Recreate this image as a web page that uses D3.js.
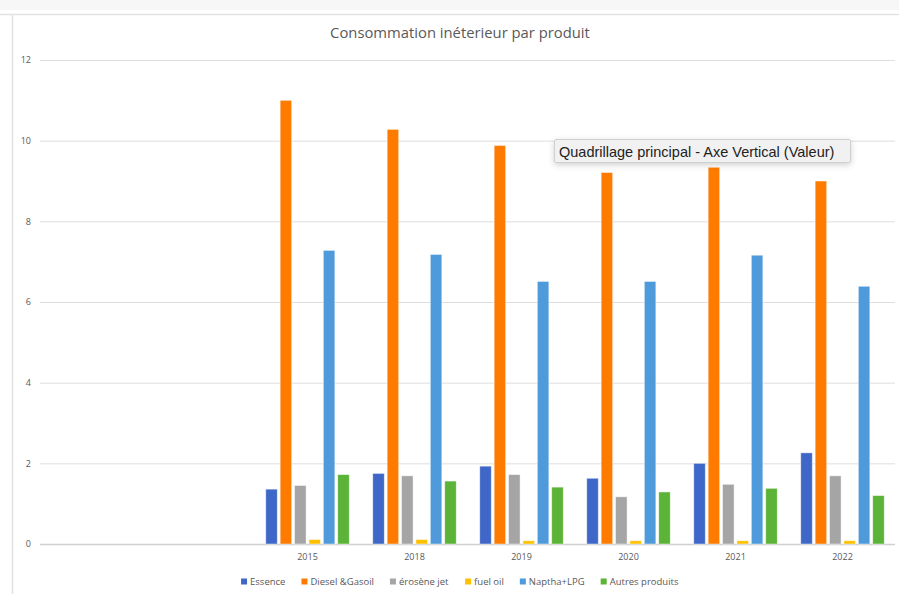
<!DOCTYPE html>
<html><head><meta charset="utf-8">
<script src="https://cdn.jsdelivr.net/npm/d3@7"></script>
<style>html,body{margin:0;padding:0;background:#fff;}svg{display:block;}</style>
</head><body>
<svg id="c" width="899" height="594"></svg>
<script>
const title = "Consommation inéterieur par produit";
const categories = ["", "", "2015", "2018", "2019", "2020", "2021", "2022"];
const seriesNames = ["Essence", "Diesel &Gasoil", "érosène jet", "fuel oil", "Naptha+LPG", "Autres produits"];
const seriesColors = ["#3F67C7", "#FF7B00", "#A5A5A5", "#FFC000", "#4E9ADB", "#5BB337"];
const essence = [null, null, 1.36, 1.75, 1.93, 1.63, 2.00, 2.26];
const diesel  = [null, null, 11.0, 10.28, 9.88, 9.21, 9.34, 9.00];
const kerosene= [null, null, 1.45, 1.69, 1.72, 1.17, 1.48, 1.69];
const fuelOil = [null, null, 0.11, 0.11, 0.08, 0.08, 0.08, 0.08];
const naptha  = [null, null, 7.28, 7.18, 6.51, 6.51, 7.16, 6.39];
const autres  = [null, null, 1.72, 1.56, 1.41, 1.29, 1.38, 1.20];
const yTicks = [0, 2, 4, 6, 8, 10, 12];
const tooltipText = "Quadrillage principal - Axe Vertical (Valeur)";

const seriesValues = [essence, diesel, kerosene, fuelOil, naptha, autres];

const svg = d3.select("#c");
const font = "'Open Sans', 'Liberation Sans', sans-serif";

// background frame
svg.append("rect").attr("x",0).attr("y",0).attr("width",899).attr("height",10).attr("fill","#f7f7f7");
svg.append("line").attr("x1",0).attr("x2",899).attr("y1",14.5).attr("y2",14.5).attr("stroke","#e2e2e2").attr("stroke-width",1.5);
svg.append("line").attr("x1",12.5).attr("x2",12.5).attr("y1",14.5).attr("y2",594).attr("stroke","#e2e2e2").attr("stroke-width",1.5);

const x = d3.scaleBand().domain(d3.range(categories.length)).range([40, 896]).paddingInner(0.193).paddingOuter(0.0965);
const xs = d3.scaleBand().domain(d3.range(seriesNames.length)).range([0, x.bandwidth()]).paddingInner(0.2).paddingOuter(0.1);
const y = d3.scaleLinear().domain([0, 12]).range([544, 60]);

// gridlines
const yAxis = d3.axisLeft(y).tickValues(yTicks).tickSize(-(895-40)).tickPadding(9);
const gy = svg.append("g").attr("transform","translate(40,0)").call(yAxis);
gy.select(".domain").remove();
gy.selectAll(".tick line").attr("stroke", d => d===0 ? "#d0d0d0" : "#dedede").attr("stroke-width", d => d===0 ? 1.3 : 1);
gy.selectAll(".tick text").attr("fill","#595959").attr("font-family",font).attr("font-size","9px");

// bars
const groups = svg.append("g").selectAll("g").data(categories.map((c,i)=>i)).join("g")
  .attr("transform", i => `translate(${x(i)},0)`);
groups.selectAll("rect").data(i => seriesValues.map((s,k)=>({k, v:s[i]})).filter(d=>d.v!=null)).join("rect")
  .attr("x", d => xs(d.k)).attr("width", xs.bandwidth())
  .attr("y", d => y(d.v)).attr("height", d => y(0)-y(d.v))
  .attr("fill", d => seriesColors[d.k])
  .attr("stroke", "rgba(255,255,255,0.55)").attr("stroke-width", 0.8);

// x axis labels
const xAxis = d3.axisBottom(x).tickFormat(i => categories[i]).tickSize(0).tickPadding(10);
const gx = svg.append("g").attr("transform","translate(0,544)").call(xAxis);
gx.select(".domain").remove();
gx.selectAll(".tick text").attr("fill","#595959").attr("font-family",font).attr("font-size","9px");

// title
svg.append("text").attr("x",460).attr("y",38).attr("text-anchor","middle")
  .attr("fill","#595959").attr("font-family",font).attr("font-size","14.8px").text(title);

// legend
const lg = svg.append("g");
const items = lg.selectAll("g").data(seriesNames).join("g");
items.append("rect").attr("width",6).attr("height",6).attr("y",-6.5).attr("fill",(d,i)=>seriesColors[i]);
items.append("text").attr("x",9).attr("y",0).attr("fill","#595959").attr("font-family",font).attr("font-size","9.5px").text(d=>d);
let cx = 0;
const gap = 16;
items.each(function(){
  const w = this.getBBox().width;
  d3.select(this).attr("transform",`translate(${cx},0)`);
  cx += w + gap;
});
const total = cx - gap;
lg.attr("transform",`translate(${460 - total/2},585)`);

// tooltip
const defs = svg.append("defs");
const f = defs.append("filter").attr("id","sh").attr("x","-20%").attr("y","-50%").attr("width","140%").attr("height","250%");
f.append("feDropShadow").attr("dx",0).attr("dy",2).attr("stdDeviation",3).attr("flood-color","#000").attr("flood-opacity",0.18);
svg.append("rect").attr("x",554.5).attr("y",139.5).attr("width",296).attr("height",23).attr("rx",1.5)
  .attr("fill","#f1f1f1").attr("stroke","#cfcfcf").attr("filter","url(#sh)");
svg.append("text").attr("x",559).attr("y",156.5).attr("fill","#222").attr("font-family","'Liberation Sans', Arial, sans-serif")
  .attr("font-size","14.5px").text(tooltipText);
</script>
</body></html>
